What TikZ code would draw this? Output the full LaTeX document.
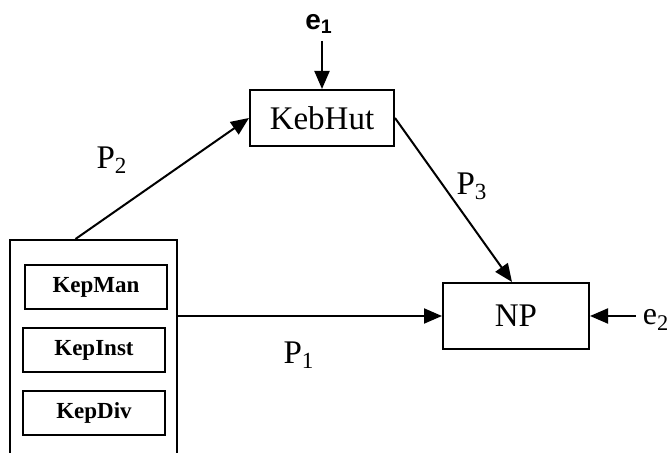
\documentclass[tikz,border=0pt]{standalone}
\usepackage{fontspec}
\setmainfont{Liberation Serif}
\newfontfamily\labsans{Liberation Sans}
\usetikzlibrary{arrows.meta}

\begin{document}
\begin{tikzpicture}[x=0.5pt,y=-0.5pt,
  blk/.style={draw,line width=1pt,inner sep=0pt,font=\fontsize{16.5}{18}\selectfont},
  sub/.style={draw,line width=1pt,inner sep=0pt,minimum width=71pt,minimum height=22pt,font=\bfseries\fontsize{11.5}{13}\selectfont},
  arr/.style={-{Triangle[length=9pt,width=7.5pt]},line width=1pt}]
\path[use as bounding box,clip] (0,0) rectangle (669,453);
\fill[white] (0,0) rectangle (669,453);

% blocks
\node[blk,minimum width=72pt,minimum height=28pt] (kh) at (322,118) {KebHut};
\node[blk,minimum width=73pt,minimum height=33pt] (np) at (516,316) {NP};
\node[draw,line width=1pt,minimum width=83.5pt,minimum height=112pt] (grp) at (93.5,352) {};
\node[sub] (man) at (96,287) {KepMan};
\node[sub] (inst) at (94,350) {KepInst};
\node[sub] (div) at (94,413) {KepDiv};

% error terms
\node[font=\labsans\bfseries\fontsize{14}{16}\selectfont] (e1) at (319,24) {e\textsubscript{1}};
\node[font=\fontsize{16}{18}\selectfont] (e2) at (656,320) {e\textsubscript{2}};

% paths
\draw[arr] (kh.north |- e1.south) -- (kh.north);
\draw[arr] (e2.west |- np.east) -- (np.east);
\draw[arr] ([xshift=-9pt]grp.north) -- (kh.west);
\draw[arr] (kh.east) -- ([xshift=-2pt]np.north);
\draw[arr] (grp.east |- np.west) -- (np.west);

\node[font=\fontsize{16.5}{18}\selectfont] (p2) at (112,160) {P\textsubscript{2}};
\node[font=\fontsize{16.5}{18}\selectfont] (p3) at (472,186) {P\textsubscript{3}};
\node[font=\fontsize{16.5}{18}\selectfont] (p1) at (299,355) {P\textsubscript{1}};
\end{tikzpicture}
\end{document}
